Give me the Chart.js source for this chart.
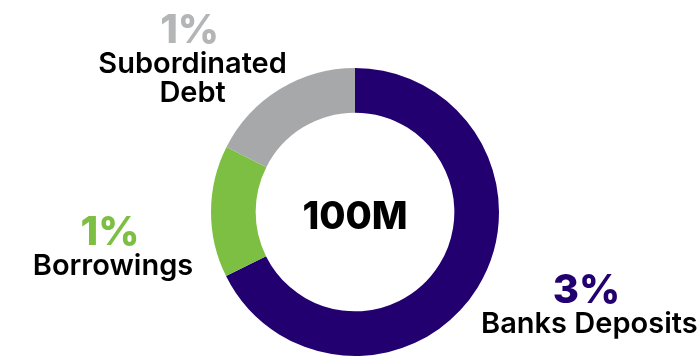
<!DOCTYPE html>
<html>
<head>
<meta charset="utf-8">
<script src="https://cdn.jsdelivr.net/npm/chart.js@4/dist/chart.umd.min.js"></script>
<style>
  html, body { margin: 0; padding: 0; background: #fff; }
  #wrap { width: 699px; height: 360px; }
</style>
</head>
<body>
<div id="wrap"><canvas id="funding-chart" width="699" height="360"></canvas></div>
<script>
const categories  = ['Banks Deposits', 'Borrowings', 'Subordinated Debt'];
const labelLines  = [['Banks Deposits'], ['Borrowings'], ['Subordinated', 'Debt']];
const shares      = [2.7, 0.59, 0.7];
const totalLabel  = '100M';

const sliceColors = ['#230070', '#7cbf42', '#a7a8aa'];
const pctColors   = ['#230070', '#7cbf42', '#b4b5b7'];
// where each label block sits, relative to the outer middle of its slice
const labelShift  = [[109, 15], [-101, 34], [-90, -46]];

const FONT = 'Inter, "Noto Sans", sans-serif';

// percent + name next to every slice, and the total in the hole
const sliceLabels = {
    id: 'sliceLabels',
    afterDatasetsDraw(chart) {
        const ctx = chart.ctx;
        const arcs = chart.getDatasetMeta(0).data;
        ctx.save();
        ctx.textAlign = 'center';
        ctx.textBaseline = 'alphabetic';

        arcs.forEach((arc, i) => {
            const mid = (arc.startAngle + arc.endAngle) / 2;
            const x = arc.x + Math.cos(mid) * arc.outerRadius + labelShift[i][0];
            const y = arc.y + Math.sin(mid) * arc.outerRadius + labelShift[i][1];

            ctx.fillStyle = pctColors[i];
            ctx.font = '800 40px ' + FONT;
            ctx.fillText(Math.round(shares[i]) + '%', x, y);

            ctx.fillStyle = '#000';
            ctx.font = '600 29px ' + FONT;
            labelLines[i].forEach((line, j) => {
                ctx.fillText(line, x + 3, y + 30 + j * 29);
            });
        });

        const c = arcs[0];
        ctx.fillStyle = '#000';
        ctx.font = '800 38px ' + FONT;
        ctx.fillText(totalLabel, c.x, c.y + 17);
        ctx.restore();
    }
};

new Chart(document.getElementById('funding-chart'), {
    type: 'doughnut',
    data: {
        labels: categories,
        datasets: [{
            data: shares,
            backgroundColor: sliceColors,
            borderWidth: 0,
            hoverOffset: 0
        }]
    },
    options: {
        responsive: false,
        animation: false,
        cutout: '69%',
        layout: { padding: { left: 11, right: 0, top: 68, bottom: 4 } },
        plugins: {
            legend: { display: false },
            tooltip: { enabled: false }
        }
    },
    plugins: [sliceLabels]
});
</script>
</body>
</html>
